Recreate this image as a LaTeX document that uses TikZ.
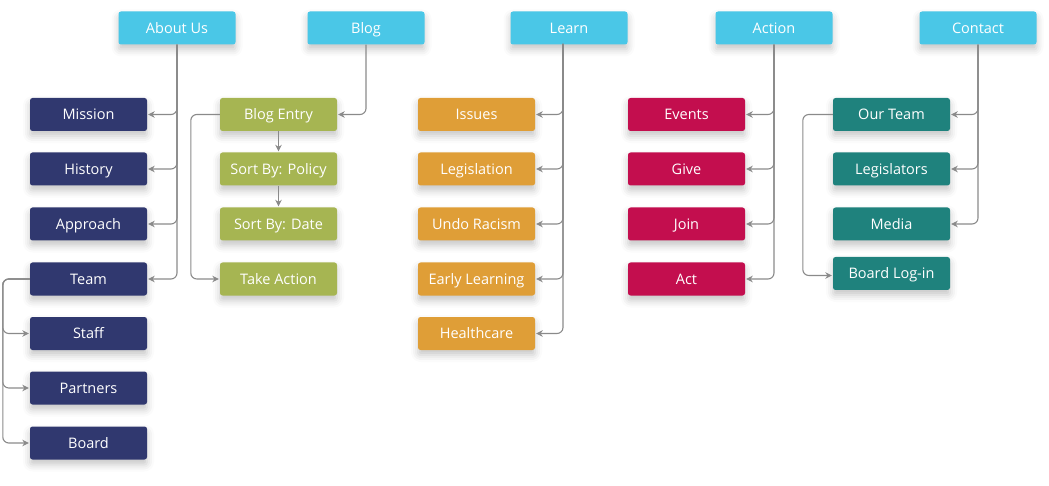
\documentclass[tikz,border=0pt]{standalone}
\usepackage{fontspec}
\setmainfont{Open Sans}
\usetikzlibrary{shadows.blur,arrows.meta}
\definecolor{cyanc}{HTML}{4AC7E7}
\definecolor{navyc}{HTML}{30386F}
\definecolor{olivec}{HTML}{A6B552}
\definecolor{orangec}{HTML}{DF9E37}
\definecolor{crimc}{HTML}{C30E4E}
\definecolor{tealc}{HTML}{1F827D}
\definecolor{linec}{HTML}{8A8A8A}
\begin{document}
\begin{tikzpicture}[x=1pt,y=-1pt,
  box/.style={minimum width=117pt, minimum height=33pt, inner sep=0pt, rounded corners=2.5pt,
    text=white, font=\fontsize{14.5}{16}\selectfont, text height=12pt, text depth=1.6pt,
    blur shadow={shadow xshift=0pt, shadow yshift=-5pt, shadow blur radius=7pt, shadow opacity=22}},
  top/.style={box, fill=cyanc},
  nav/.style={box, fill=navyc},
  olv/.style={box, fill=olivec},
  org/.style={box, fill=orangec},
  crm/.style={box, fill=crimc},
  tea/.style={box, fill=tealc},
  conn/.style={draw=linec, line width=1.1pt, rounded corners=6pt, -{Stealth[length=6.5pt,width=6.5pt]}, shorten >=1pt}
]
\useasboundingbox (0,0) rectangle (1049,486);
% top level
\node[top] (about) at (177,28) {About Us};
\node[top] (blog) at (366,28) {Blog};
\node[top] (learn) at (569,28) {Learn};
\node[top] (action) at (774,28) {Action};
\node[top] (contact) at (978,28) {Contact};
\coordinate (learnout) at (563,44);
% about
\node[nav] (mission) at (88.5,114.5) {Mission};
\node[nav] (history) at (88.5,169) {History};
\node[nav] (approach) at (88.5,224) {Approach};
\node[nav] (team) at (88.5,279) {Team};
\node[nav] (staff) at (88.5,333.5) {Staff};
\node[nav] (partners) at (88.5,388) {Partners};
\node[nav] (board) at (88.5,443) {Board};
% blog
\node[olv] (entry) at (278.5,114.5) {Blog Entry};
\node[olv] (policy) at (278.5,169) {Sort By: Policy};
\node[olv] (date) at (278.5,224) {Sort By: Date};
\node[olv] (take) at (278.5,279) {Take Action};
% learn
\node[org] (issues) at (476.5,114.5) {Issues};
\node[org] (legis) at (476.5,169) {Legislation};
\node[org] (undo) at (476.5,224) {Undo Racism};
\node[org] (early) at (476.5,279) {Early Learning};
\node[org] (health) at (476.5,333.5) {Healthcare};
% action
\node[crm] (events) at (686.5,114.5) {Events};
\node[crm] (give) at (686.5,169) {Give};
\node[crm] (join) at (686.5,224) {Join};
\node[crm] (act) at (686.5,279) {Act};
% contact
\node[tea] (ourteam) at (891.5,114.5) {Our Team};
\node[tea] (legislators) at (891.5,169) {Legislators};
\node[tea] (media) at (891.5,224) {Media};
\node[tea] (login) at (891.5,273.5) {Board Log-in};
% connectors
\foreach \c in {mission,history,approach,team} \draw[conn] (about.south) |- (\c.east);
\foreach \c in {staff,partners,board} \draw[conn] (team.west) -- ++(-27,0) |- (\c.west);
\draw[conn] (blog.south) |- (entry.east);
\draw[conn] (entry.south) -- (policy.north);
\draw[conn] (policy.south) -- (date.north);
\draw[conn] (entry.west) -- ++(-29,0) |- (take.west);
\foreach \c in {issues,legis,undo,early,health} \draw[conn] (learnout) |- (\c.east);
\foreach \c in {events,give,join,act} \draw[conn] (action.south) |- (\c.east);
\foreach \c in {ourteam,legislators,media} \draw[conn] (contact.south) |- (\c.east);
\draw[conn] (ourteam.west) -- ++(-30,0) |- ([yshift=-2pt]login.west);
\end{tikzpicture}
\end{document}
